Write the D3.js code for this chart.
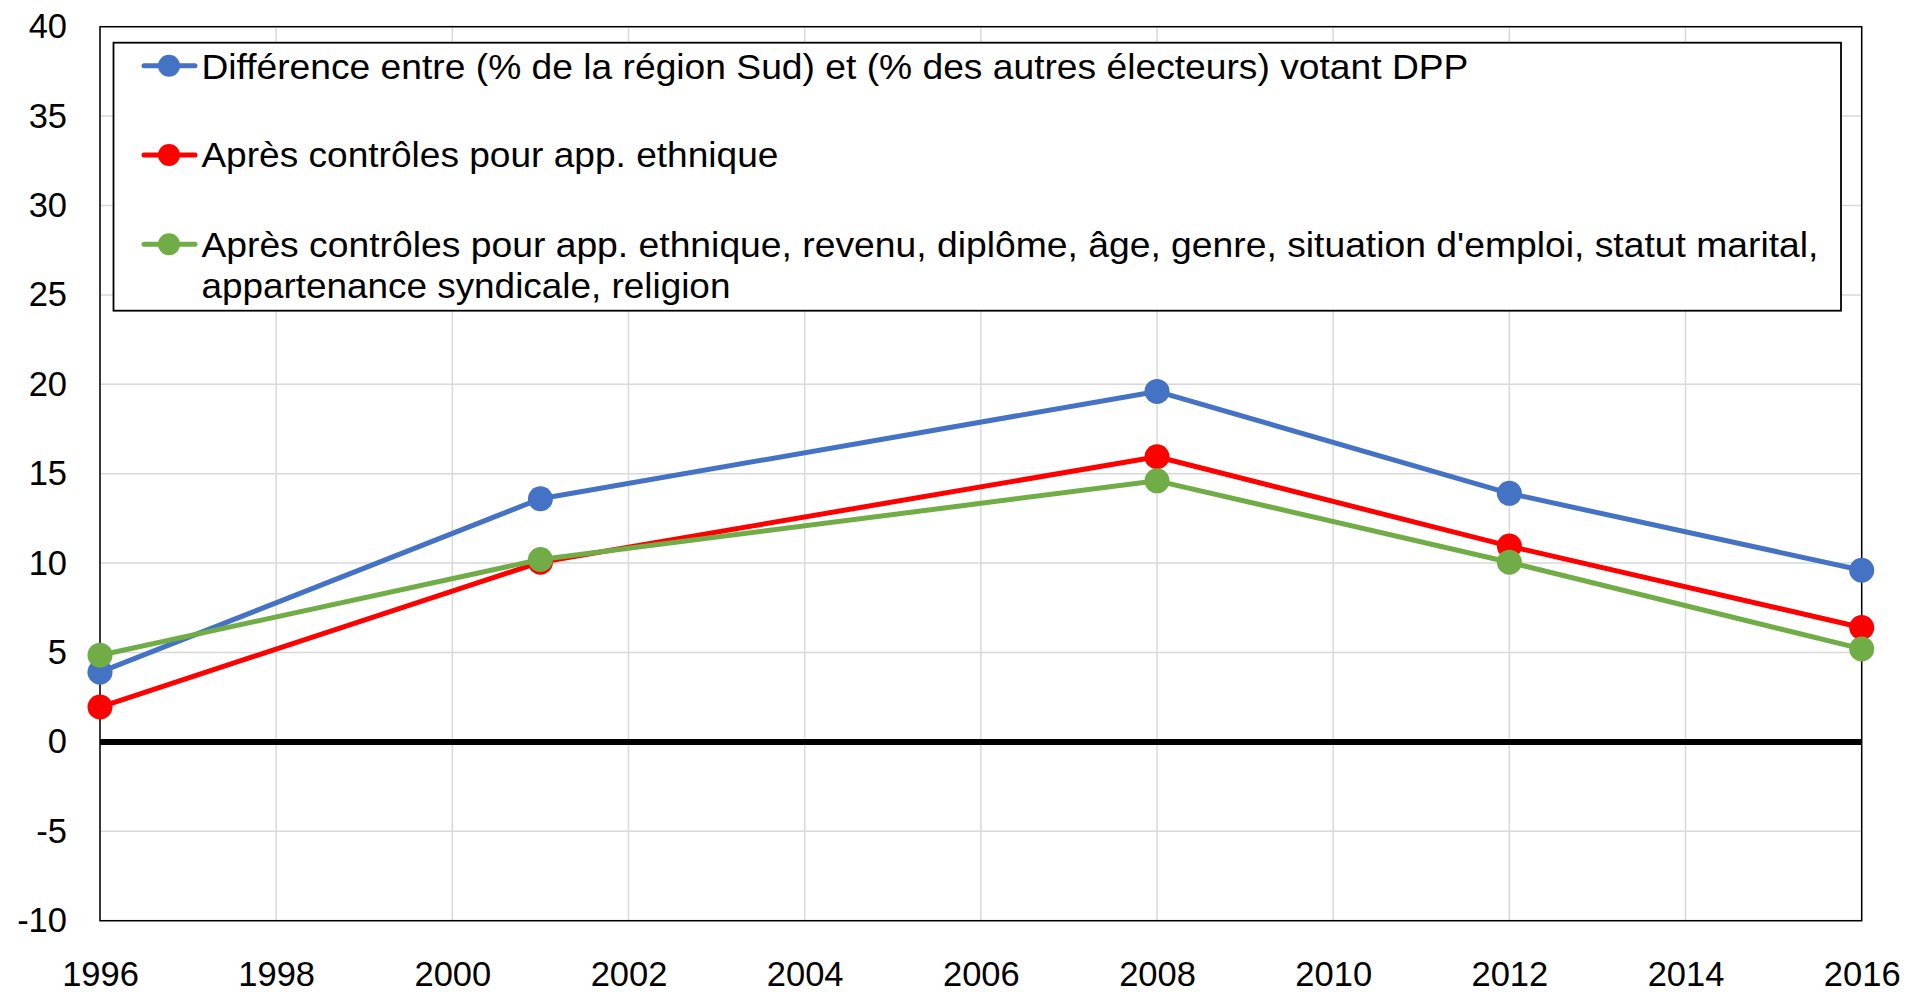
<!DOCTYPE html>
<html><head><meta charset="utf-8">
<script src="https://cdn.jsdelivr.net/npm/d3@7"></script>
<style>
html,body{margin:0;padding:0;background:#fff;}
svg{display:block;font-family:"Liberation Sans",Arial,sans-serif;}
</style></head>
<body>
<svg id="chart" width="1908" height="992"></svg>
<script>
const years = [1996, 2001, 2008, 2012, 2016];
const seriesNames = [
  "Différence entre (% de la région Sud) et (% des autres électeurs) votant DPP",
  "Après contrôles pour app. ethnique",
  "Après contrôles pour app. ethnique, revenu, diplôme, âge, genre, situation d'emploi, statut marital,|appartenance syndicale, religion"
];
const blueValues = [3.9, 13.6, 19.6, 13.9, 9.6];
const redValues = [1.95, 10.05, 15.95, 10.95, 6.4];
const greenValues = [4.85, 10.2, 14.6, 10.05, 5.2];
const seriesColors = ["#4472C4", "#FF0000", "#70AD47"];
const xTicks = [1996, 1998, 2000, 2002, 2004, 2006, 2008, 2010, 2012, 2014, 2016];
const yTicks = [-10, -5, 0, 5, 10, 15, 20, 25, 30, 35, 40];

const svg = d3.select("#chart");
const L = 100, R = 1861.7, T = 26.7, B = 920.7;
const x = d3.scaleLinear().domain([1996, 2016]).range([L, R]);
const y = d3.scaleLinear().domain([-10, 40]).range([B, T]);

// gridlines
svg.append("g").selectAll("line.h").data(yTicks).join("line")
  .attr("x1", L).attr("x2", R).attr("y1", d => y(d)).attr("y2", d => y(d))
  .attr("stroke", "#d9d9d9").attr("stroke-width", 1.5);
svg.append("g").selectAll("line.v").data(xTicks).join("line")
  .attr("y1", T).attr("y2", B).attr("x1", d => x(d)).attr("x2", d => x(d))
  .attr("stroke", "#d9d9d9").attr("stroke-width", 1.5);

// plot border
svg.append("rect").attr("x", L).attr("y", T).attr("width", R - L).attr("height", B - T)
  .attr("fill", "none").attr("stroke", "#000").attr("stroke-width", 1.5);

// axes (labels only)
const yAxis = d3.axisLeft(y).tickValues(yTicks).tickFormat(d => String(d)).tickSize(0).tickPadding(33);
const gy = svg.append("g").attr("transform", `translate(${L},0)`).call(yAxis);
gy.select(".domain").remove();
gy.selectAll("text").attr("font-size", 34.5).attr("fill", "#000")
  .attr("font-family", "Liberation Sans, Arial, sans-serif");

const xAxis = d3.axisBottom(x).tickValues(xTicks).tickFormat(d => String(d)).tickSize(0).tickPadding(41);
const gx = svg.append("g").attr("transform", `translate(0,${B})`).call(xAxis);
gx.select(".domain").remove();
gx.selectAll("text").attr("font-size", 34.5).attr("fill", "#000")
  .attr("font-family", "Liberation Sans, Arial, sans-serif");

// zero line
svg.append("line").attr("x1", L).attr("x2", R).attr("y1", y(0)).attr("y2", y(0))
  .attr("stroke", "#000").attr("stroke-width", 6);

const allSeries = [blueValues, redValues, greenValues];
const line = d3.line().x((d, i) => x(years[i])).y(d => y(d));
allSeries.forEach((vals, k) => {
  svg.append("path").datum(vals).attr("d", line).attr("fill", "none")
    .attr("stroke", seriesColors[k]).attr("stroke-width", 5).attr("stroke-linejoin", "round");
  svg.append("g").selectAll("circle").data(vals).join("circle")
    .attr("cx", (d, i) => x(years[i])).attr("cy", d => y(d)).attr("r", 12.5)
    .attr("fill", seriesColors[k]);
});

// legend
const lg = svg.append("g");
lg.append("rect").attr("x", 113.5).attr("y", 42.7).attr("width", 1841 - 113.5).attr("height", 310.7 - 42.7)
  .attr("fill", "#fff").attr("stroke", "#000").attr("stroke-width", 1.8);
const rowY = [65.7, 155, 244.3];
const baseY = [[79.3], [167.3], [257.3, 298.3]];
const widths = [[1267], [577], [1617, 529]];
seriesNames.forEach((name, k) => {
  lg.append("line").attr("x1", 144).attr("x2", 195).attr("y1", rowY[k]).attr("y2", rowY[k])
    .attr("stroke", seriesColors[k]).attr("stroke-width", 5).attr("stroke-linecap", "round");
  lg.append("circle").attr("cx", 169).attr("cy", rowY[k]).attr("r", 11).attr("fill", seriesColors[k]);
  name.split("|").forEach((part, j) => {
    lg.append("text").attr("x", 201.4).attr("y", baseY[k][j]).text(part)
      .attr("font-size", 34.5).attr("fill", "#000")
      .attr("textLength", widths[k][j]).attr("lengthAdjust", "spacingAndGlyphs");
  });
});
</script>
</body></html>
